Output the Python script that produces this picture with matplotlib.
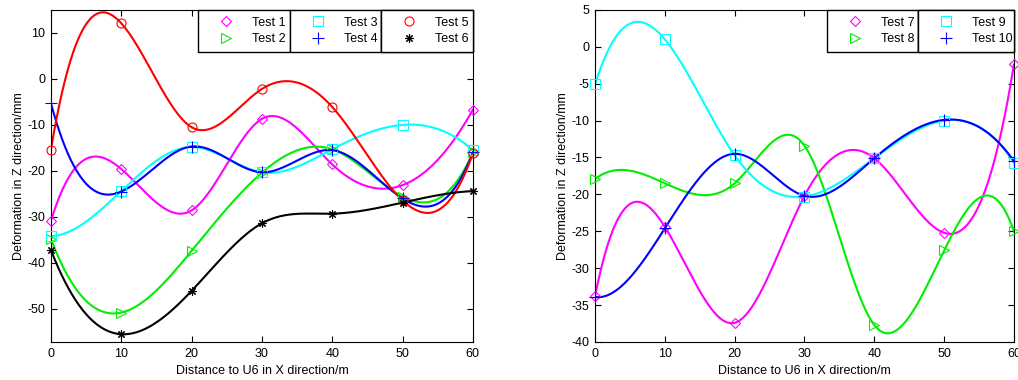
import numpy as np
import matplotlib.pyplot as plt

plt.rcParams['font.family'] = ['Liberation Sans', 'DejaVu Sans']
plt.rcParams['font.size'] = 9
plt.rcParams['axes.unicode_minus'] = False

# distances along X (m)
x = np.array([0, 10, 20, 30, 40, 50, 60])

# left panel, deformation in Z (mm)
test1 = [-30.9, -19.6, -28.6, -8.7, -18.6, -23.1, -6.7]
test2 = [-34.8, -50.8, -37.4, -20.4, -15.3, -25.6, -16.0]
test3 = [-34.2, -24.4, -14.8, -20.3, -15.3, -10.0, -15.5]
test4 = [-5.3, -24.5, -14.7, -20.3, -15.5, -26.0, -16.0]
test5 = [-15.4, 12.1, -10.5, -2.2, -6.1, -26.4, -16.2]
test6 = [-37.2, -55.5, -46.1, -31.4, -29.3, -26.9, -24.4]

# right panel
test7 = [-33.8, -24.4, -37.4, -20.2, -15.1, -25.2, -2.4]
test8 = [-17.9, -18.5, -18.5, -13.4, -37.7, -27.6, -25.0]
test9 = [-5.1, 1.0, -14.7, -20.3, -15.1, -10.0, -15.7]
test10 = [-33.9, -24.6, -14.5, -20.2, -15.1, -9.9, -15.5]


def spline(xp, yp, xs):
    # cubic spline with not-a-knot ends (like matlab spline)
    xp = np.asarray(xp, float)
    yp = np.asarray(yp, float)
    n = len(xp)
    h = np.diff(xp)
    A = np.zeros((n, n))
    b = np.zeros(n)
    for i in range(1, n - 1):
        A[i, i - 1] = h[i - 1]
        A[i, i] = 2 * (h[i - 1] + h[i])
        A[i, i + 1] = h[i]
        b[i] = 6 * ((yp[i + 1] - yp[i]) / h[i] - (yp[i] - yp[i - 1]) / h[i - 1])
    A[0, 0], A[0, 1], A[0, 2] = h[1], -(h[0] + h[1]), h[0]
    A[-1, -3], A[-1, -2], A[-1, -1] = h[-1], -(h[-2] + h[-1]), h[-2]
    M = np.linalg.solve(A, b)
    idx = np.clip(np.searchsorted(xp, xs) - 1, 0, n - 2)
    x0, x1 = xp[idx], xp[idx + 1]
    hh = x1 - x0
    return (M[idx] * (x1 - xs) ** 3 / (6 * hh) + M[idx + 1] * (xs - x0) ** 3 / (6 * hh)
            + (yp[idx] / hh - M[idx] * hh / 6) * (x1 - xs)
            + (yp[idx + 1] / hh - M[idx + 1] * hh / 6) * (xs - x0))


xs = np.linspace(0, 60, 601)

fig = plt.figure(figsize=(10.18, 3.8), dpi=100)
ax1 = fig.add_axes([0.050, 0.100, 0.4145, 0.874])
ax2 = fig.add_axes([0.5845, 0.100, 0.4115, 0.874])

msizes = {'D': 5.5, '>': 7, 's': 6.5, 'o': 6.5, '+': 9, (8, 2, 0): 6}


def draw(ax, series, boxes):
    handles = []
    for y, c, m, lab in series:
        ax.plot(xs, spline(x, y, xs), color=c, lw=1.5, zorder=2)
        h, = ax.plot(x, y, ls='none', marker=m, ms=msizes[m], mfc='none', mec=c,
                     mew=0.8, label=lab, zorder=3, clip_on=False)
        handles.append(h)
    ax.set_xlim(0, 60)
    ax.set_xticks(x)
    ax.tick_params(direction='in', top=True, right=True, length=4, width=0.8,
                   labelsize=9, pad=4)
    for s in ax.spines.values():
        s.set_linewidth(0.8)
    ax.set_xlabel('Distance to U6 in X direction/m', labelpad=4)
    ax.set_ylabel('Deformation in Z direction/mm', labelpad=2)
    # one legend box per column, like the matlab columnlegend look
    for k, (x0, x1) in enumerate(boxes):
        leg = ax.legend(handles=handles[2 * k:2 * k + 2], loc='upper left',
                        bbox_to_anchor=(x0, 0.877, x1 - x0, 0.123), mode='expand',
                        borderaxespad=0, borderpad=0.55, labelspacing=0.35,
                        handlelength=3.4, handletextpad=0.4, numpoints=1,
                        fancybox=False, framealpha=1, edgecolor='black', fontsize=9)
        leg.get_frame().set_linewidth(1.0)
        ax.add_artist(leg)


draw(ax1, [(test1, '#ff00ff', 'D', 'Test 1'), (test2, '#00ee00', '>', 'Test 2'),
           (test3, '#00ffff', 's', 'Test 3'), (test4, '#0000ff', '+', 'Test 4'),
           (test5, '#ff0000', 'o', 'Test 5'), (test6, 'black', (8, 2, 0), 'Test 6')],
     [(0.348, 0.566), (0.566, 0.782), (0.782, 1.0)])
ax1.set_ylim(-57.2, 15)
ax1.set_yticks([-50, -40, -30, -20, -10, 0, 10])

draw(ax2, [(test7, '#ff00ff', 'D', 'Test 7'), (test8, '#00ee00', '>', 'Test 8'),
           (test9, '#00ffff', 's', 'Test 9'), (test10, '#0000ff', '+', 'Test 10')],
     [(0.554, 0.771), (0.771, 1.0)])
ax2.set_ylim(-40, 5)
ax2.set_yticks(np.arange(-40, 6, 5))

fig.savefig('out.png', dpi=100)
